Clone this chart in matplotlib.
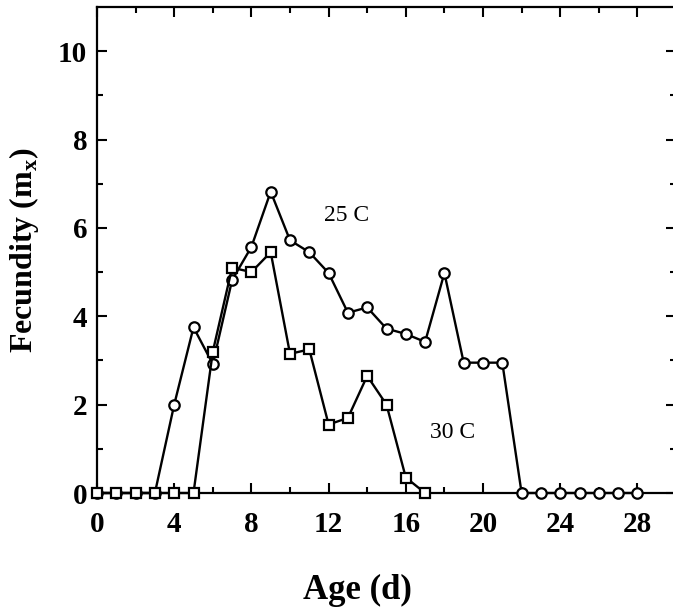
import matplotlib
matplotlib.use("Agg")
import matplotlib.pyplot as plt
import numpy as np

# fecundity per day of age
days_25 = list(range(0, 29))
mx_25 = [0, 0, 0, 0, 2.0, 3.75, 2.92, 4.82, 5.57, 6.82, 5.72, 5.45, 4.98, 4.08,
         4.2, 3.72, 3.6, 3.42, 4.98, 2.95, 2.95, 2.95, 0, 0, 0, 0, 0, 0, 0]

days_30 = list(range(0, 18))
mx_30 = [0, 0, 0, 0, 0, 0, 3.2, 5.1, 5.0, 5.45, 3.15, 3.25, 1.55, 1.7,
         2.65, 2.0, 0.35, 0]

x_major = [0, 4, 8, 12, 16, 20, 24, 28]
x_minor = [2, 6, 10, 14, 18, 22, 26]
y_major = [0, 2, 4, 6, 8, 10]
y_minor = [1, 3, 5, 7, 9]

plt.rcParams['font.family'] = ['Liberation Serif', 'DejaVu Serif']

fig = plt.figure(figsize=(6.73, 6.14), dpi=100)
ax = fig.add_axes([97/673, 1 - 493/614, (676 - 97)/673, (493 - 7)/614])

ax.plot(days_25, mx_25, color='black', lw=1.7, marker='o', ms=7.5,
        mfc='white', mec='black', mew=1.6, clip_on=False, zorder=3)
ax.plot(days_30, mx_30, color='black', lw=1.7, marker='s', ms=6.5,
        mfc='white', mec='black', mew=1.6, clip_on=False, zorder=4)

ax.text(12.95, 6.28, "25 C", fontsize=17, ha='center', va='center')
ax.text(18.4, 1.38, "30 C", fontsize=17, ha='center', va='center')

ax.set_xlim(0, 30)
ax.set_ylim(0, 11)
ax.set_xticks(x_major)
ax.set_xticks(x_minor, minor=True)
ax.set_yticks(y_major)
ax.set_yticks(y_minor, minor=True)
ax.set_xticklabels([str(v) for v in x_major], fontsize=21, fontweight='bold')
ax.set_yticklabels([str(v) for v in y_major], fontsize=21, fontweight='bold')

ax.tick_params(which='both', direction='in', top=True, right=True, width=1.5)
ax.tick_params(which='major', length=7)
ax.tick_params(which='minor', length=4)
ax.tick_params(axis='x', which='major', pad=13)
ax.tick_params(axis='y', which='major', pad=7)

for s in ax.spines.values():
    s.set_linewidth(1.6)

ax.set_xlabel("Age (d)", fontsize=25, fontweight='bold')
ax.xaxis.set_label_coords(0.449, -0.2)
ax.xaxis.label.set_va('center')
ax.set_ylabel("Fecundity (m$_\\mathregular{x}$)", fontsize=23, fontweight='bold', labelpad=12)

fig.savefig("out.png", dpi=100)
